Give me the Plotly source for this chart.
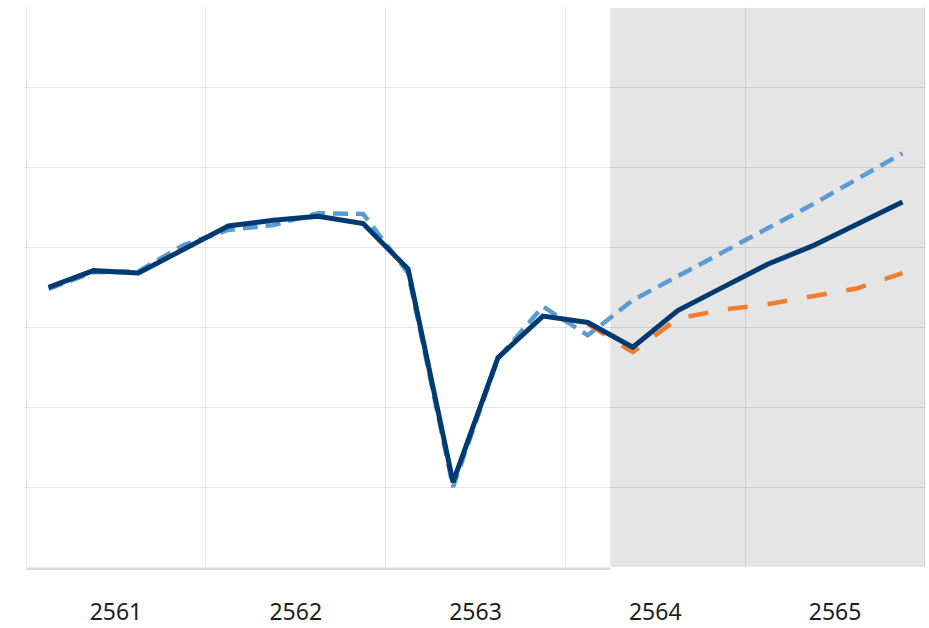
import plotly.graph_objects as go

years = [2561, 2562, 2563, 2564, 2565]
quarters = [1, 2, 3, 4]
year_labels = ["2561", "2562", "2563", "2564", "2565"]

# Quarterly series (index units, no y labels on original)
actual_base = [3.50, 3.71, 3.68, 3.98, 4.27, 4.34, 4.39, 4.30,
               3.73, 1.06, 2.62, 3.14, 3.06, 2.75, 3.21, 3.50,
               3.79, 4.02, 4.29, 4.57]
upper_case = [3.48, 3.69, 3.70, 4.03, 4.22, 4.28, 4.43, 4.42,
              3.68, 1.00, 2.61, 3.26, 2.90, 3.34, 3.64, 3.94,
              4.24, 4.54, 4.86, 5.18]
lower_case = [None] * 12 + [3.04, 2.69, 3.11, 3.22, 3.29, 3.39, 3.49, 3.68]

forecast_start = 2564.25  # forecast period begins at Q2 2564

x = [y + (q - 0.5) / 4 for y in years for q in quarters]

fig = go.Figure()
fig.add_trace(go.Scatter(x=x, y=upper_case, mode="lines",
                         line=dict(color="#5b9bd5", width=4.5, dash="15px,8px"),
                         showlegend=False, hoverinfo="skip"))
fig.add_trace(go.Scatter(x=x, y=lower_case, mode="lines",
                         line=dict(color="#ed7d31", width=4.5, dash="20px,20px"),
                         showlegend=False, hoverinfo="skip"))
fig.add_trace(go.Scatter(x=x, y=actual_base, mode="lines",
                         line=dict(color="#003a70", width=5),
                         showlegend=False, hoverinfo="skip"))

# forecast shading
fig.add_shape(type="rect", xref="x", yref="y", x0=forecast_start, x1=years[-1] + 1,
              y0=0, y1=7, fillcolor="#e5e5e5", line=dict(width=0), layer="below")
# bottom axis line for the historical part
fig.add_shape(type="line", xref="x", yref="paper", x0=years[0], x1=forecast_start,
              y0=-0.003, y1=-0.003, line=dict(color="#dadada", width=2.5), layer="below")

fig.update_layout(
    width=929, height=628,
    margin=dict(l=25, r=3, t=7, b=61, autoexpand=False),
    paper_bgcolor="white", plot_bgcolor="white",
    font=dict(family="Noto Sans", size=23, color="#1e1e1e"),
)
fig.update_xaxes(range=[years[0] - 0.006, years[-1] + 1.006],
                 tickvals=[y + 0.5 for y in years], ticktext=year_labels,
                 showgrid=False, zeroline=False, showline=False, ticks="",
                 ticklabelstandoff=29, automargin=False,
                 minor=dict(tick0=years[0], dtick=1, showgrid=True,
                            gridcolor="rgba(0,0,0,0.1)", gridwidth=1))
fig.update_yaxes(range=[-0.002, 7.012], tickvals=[1, 2, 3, 4, 5, 6, 7],
                 showticklabels=False, showgrid=True, automargin=False,
                 gridcolor="rgba(0,0,0,0.1)", gridwidth=1,
                 zeroline=False, showline=False, ticks="")

fig.write_html("out.html", config={"displayModeBar": False},
               post_script="document.body.style.margin='0';document.body.style.overflow='hidden';")
